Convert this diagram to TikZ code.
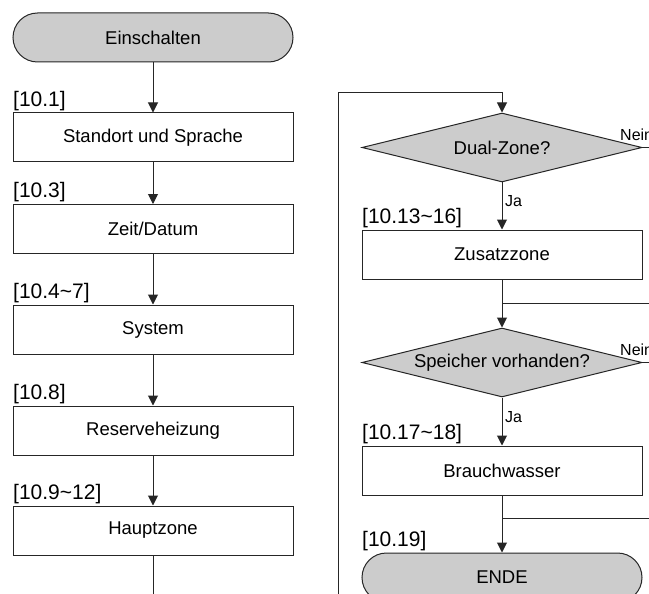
\documentclass[tikz,border=0pt]{standalone}
\usepackage{fontspec}
\setmainfont{Liberation Sans}
\usetikzlibrary{arrows.meta,shapes.geometric}
\newcommand\boxfont{\fontsize{18.5}{22}\selectfont}
\newcommand\reffont{\fontsize{21}{25}\selectfont}
\newcommand\ansfont{\fontsize{16}{19}\selectfont}
\begin{document}
\begin{tikzpicture}[x=1pt, y=-1pt, >={Triangle[width=10pt,length=10pt]},
  every node/.style={font=\boxfont},
  box/.style={draw=black!85, line width=1pt, minimum width=280pt, minimum height=49pt, inner sep=0pt},
  term/.style={box, rounded corners=24.5pt, fill=gray!40},
  query/.style={diamond, draw=black!85, line width=1pt, aspect=4, minimum width=280pt, minimum height=69pt, inner sep=0pt, fill=gray!40},
  ref/.style={anchor=south west, inner sep=0pt, font=\reffont},
  ans/.style={anchor=base west, inner sep=0pt, font=\ansfont},
  flow/.style={draw=black!85, line width=1pt}]
  \useasboundingbox (0,0) rectangle (649,594);
  \clip (0,0) rectangle (649,594);
  % Left column
  \node[term] (start) at (153,37.5) {Einschalten};
  \node[box] (ort) at (153,137.5) {Standort und Sprache};
  \node[box] (zeit) at (153,229) {Zeit/Datum};
  \node[box] (sys) at (153,329.5) {System};
  \node[box] (reserve) at (153,430.5) {Reserveheizung};
  \node[box] (haupt) at (153,530.5) {Hauptzone};
  \node[ref] (r1) at (13,111) {[10.1]};
  \node[ref] (r3) at (13,202) {[10.3]};
  \node[ref] (r4) at (13,303) {[10.4\char`~7]};
  \node[ref] (r8) at (13,404) {[10.8]};
  \node[ref] (r9) at (13,504) {[10.9\char`~12]};
  \coordinate (leftend) at (153,610);
  \draw[flow,->] (start) -- (ort);
  \draw[flow,->] (ort) -- (zeit);
  \draw[flow,->] (zeit) -- (sys);
  \draw[flow,->] (sys) -- (reserve);
  \draw[flow,->] (reserve) -- (haupt);
  \draw[flow] (haupt) -- (leftend);
  % Right column
  \node[query] (dual) at (502,147.5) {Dual-Zone?};
  \node[box] (zusatz) at (502,254.5) {Zusatzzone};
  \node[query] (speicher) at (502,362.5) {Speicher vorhanden?};
  \node[box] (wasser) at (502,470.5) {Brauchwasser};
  \node[term] (ende) at (502,577.5) {ENDE};
  \node[ref] (r13) at (362,228) {[10.13\char`~16]};
  \node[ref] (r17) at (362,444) {[10.17\char`~18]};
  \node[ref] (r19) at (362,551) {[10.19]};
  \node[ans] (ja1) at (505,206) {Ja};
  \node[ans] (ja2) at (505,422) {Ja};
  \node[ans] (nein1) at (620,140) {Nein};
  \node[ans] (nein2) at (620,355) {Nein};
  % Loop from the left column and side branches
  \coordinate (loopbot) at (338,610);
  \coordinate (looptop) at (338,93);
  \coordinate (exit1) at (660,147.5);
  \coordinate (join1) at (660,303);
  \coordinate (exit2) at (660,362.5);
  \coordinate (join2) at (660,518);
  \draw[flow,->] (loopbot) -- (looptop) -| (dual.north);
  \draw[flow,->] (dual) -- (zusatz);
  \draw[flow,->] (zusatz) -- (speicher);
  \draw[flow,->] (speicher) -- (wasser);
  \draw[flow,->] (wasser) -- (ende);
  \draw[flow] (dual.east) -- (exit1);
  \draw[flow] (speicher.east) -- (exit2);
  \draw[flow] (join1) -- (join1 -| zusatz.south);
  \draw[flow] (join2) -- (join2 -| wasser.south);
\end{tikzpicture}
\end{document}
